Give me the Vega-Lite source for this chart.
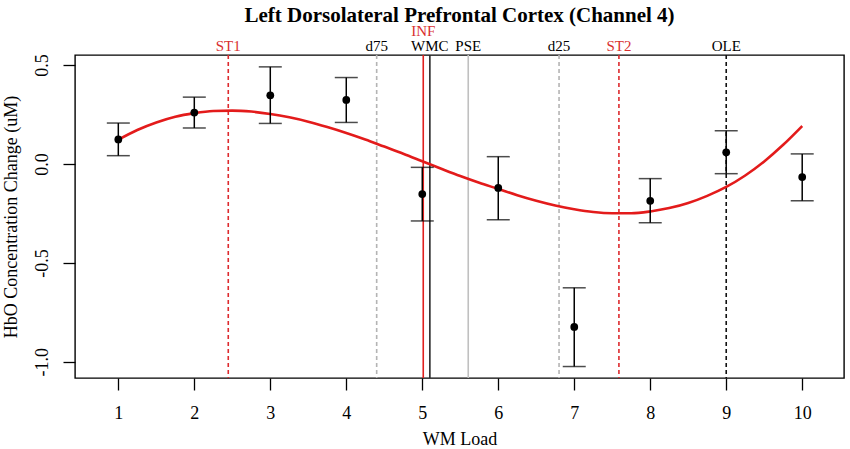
{
  "$schema": "https://vega.github.io/schema/vega-lite/v6.json",
  "description": "HbO concentration change by WM load with cubic fit and transition markers",
  "width": 769,
  "height": 323,
  "autosize": "none",
  "padding": {"left": 75, "top": 55, "right": 6, "bottom": 71},
  "title": {
    "text": "Left Dorsolateral Prefrontal Cortex (Channel 4)",
    "font": "Liberation Serif",
    "fontSize": 21,
    "fontWeight": "bold",
    "color": "black",
    "anchor": "middle",
    "baseline": "alphabetic",
    "offset": -19
  },
  "datasets": {
    "points": [
      {"load": 1, "mean": 0.124, "lo": 0.042, "hi": 0.207},
      {"load": 2, "mean": 0.260, "lo": 0.182, "hi": 0.338},
      {"load": 3, "mean": 0.347, "lo": 0.205, "hi": 0.491},
      {"load": 4, "mean": 0.324, "lo": 0.210, "hi": 0.437},
      {"load": 5, "mean": -0.152, "lo": -0.288, "hi": -0.017},
      {"load": 6, "mean": -0.121, "lo": -0.282, "hi": 0.037},
      {"load": 7, "mean": -0.824, "lo": -1.024, "hi": -0.626},
      {"load": 8, "mean": -0.186, "lo": -0.297, "hi": -0.074},
      {"load": 9, "mean": 0.059, "lo": -0.049, "hi": 0.168},
      {"load": 10, "mean": -0.066, "lo": -0.186, "hi": 0.051}
    ],
    "curve": [
      {"load": 1.0, "fit": 0.123}, {"load": 1.25, "fit": 0.172},
      {"load": 1.5, "fit": 0.210}, {"load": 1.75, "fit": 0.239},
      {"load": 2.0, "fit": 0.257}, {"load": 2.25, "fit": 0.268},
      {"load": 2.5, "fit": 0.270}, {"load": 2.75, "fit": 0.265},
      {"load": 3.0, "fit": 0.253}, {"load": 3.25, "fit": 0.236},
      {"load": 3.5, "fit": 0.214}, {"load": 3.75, "fit": 0.187},
      {"load": 4.0, "fit": 0.157}, {"load": 4.25, "fit": 0.124},
      {"load": 4.5, "fit": 0.088}, {"load": 4.75, "fit": 0.052},
      {"load": 5.0, "fit": 0.014}, {"load": 5.25, "fit": -0.024},
      {"load": 5.5, "fit": -0.061}, {"load": 5.75, "fit": -0.095},
      {"load": 6.0, "fit": -0.126}, {"load": 6.25, "fit": -0.158},
      {"load": 6.5, "fit": -0.186}, {"load": 6.75, "fit": -0.210},
      {"load": 7.0, "fit": -0.229}, {"load": 7.25, "fit": -0.243},
      {"load": 7.5, "fit": -0.249}, {"load": 7.75, "fit": -0.249},
      {"load": 8.0, "fit": -0.240}, {"load": 8.25, "fit": -0.223},
      {"load": 8.5, "fit": -0.197}, {"load": 8.75, "fit": -0.161},
      {"load": 9.0, "fit": -0.116}, {"load": 9.25, "fit": -0.058},
      {"load": 9.5, "fit": 0.013}, {"load": 9.75, "fit": 0.097},
      {"load": 10.0, "fit": 0.192}
    ],
    "lines": [
      {"label": "ST1", "load": 2.447},
      {"label": "d75", "load": 4.40},
      {"label": "INF", "load": 5.013},
      {"label": "WMC", "load": 5.10},
      {"label": "PSE", "load": 5.605},
      {"label": "d25", "load": 6.80},
      {"label": "ST2", "load": 7.588},
      {"label": "OLE", "load": 9.0}
    ]
  },
  "encoding": {
    "x": {
      "field": "load",
      "type": "quantitative",
      "scale": {"domain": [0.43, 10.55], "nice": false, "zero": false},
      "axis": {
        "title": "WM Load",
        "values": [1, 2, 3, 4, 5, 6, 7, 8, 9, 10],
        "grid": false,
        "domain": false,
        "tickSize": 12,
        "tickWidth": 1.3,
        "tickColor": "black",
        "labelPadding": 14,
        "labelFontSize": 18,
        "labelFont": "Liberation Serif",
        "labelColor": "black",
        "titleFont": "Liberation Serif",
        "titleFontSize": 18,
        "titleFontWeight": "normal",
        "titleColor": "black",
        "titleBaseline": "alphabetic",
        "titleY": 66.5
      }
    }
  },
  "layer": [
    {
      "data": {"name": "lines"},
      "mark": {"type": "rule", "strokeWidth": 1.6},
      "encoding": {
        "color": {
          "field": "label",
          "type": "nominal",
          "legend": null,
          "scale": {
            "domain": ["ST1", "d75", "INF", "WMC", "PSE", "d25", "ST2", "OLE"],
            "range": ["#dd2a2e", "#b4b4b4", "#e0201e", "#2a2a2a", "#c0c0c0", "#b4b4b4", "#dd2a2e", "#111111"]
          }
        },
        "strokeDash": {
          "field": "label",
          "type": "nominal",
          "legend": null,
          "scale": {
            "domain": ["ST1", "d75", "INF", "WMC", "PSE", "d25", "ST2", "OLE"],
            "range": [[4, 3], [4, 3], [1, 0], [1, 0], [1, 0], [4, 3], [4, 3], [4, 3]]
          }
        }
      }
    },
    {
      "data": {"name": "lines"},
      "transform": [{"filter": "datum.label != 'INF'"}],
      "mark": {"type": "text", "font": "Liberation Serif", "fontSize": 15, "baseline": "alphabetic", "align": "center", "dy": -4},
      "encoding": {
        "y": {"datum": 0.551, "type": "quantitative"},
        "text": {"field": "label"},
        "color": {
          "condition": {"test": "indexof(['ST1', 'ST2'], datum.label) >= 0", "value": "#d9302f"},
          "value": "black"
        }
      }
    },
    {
      "data": {"name": "lines"},
      "transform": [{"filter": "datum.label == 'INF'"}],
      "mark": {"type": "text", "font": "Liberation Serif", "fontSize": 15, "baseline": "alphabetic", "align": "center", "dy": -19.5, "color": "#d9302f"},
      "encoding": {
        "y": {"datum": 0.551, "type": "quantitative"},
        "text": {"field": "label"}
      }
    },
    {
      "data": {"name": "curve"},
      "mark": {"type": "line", "color": "#e31b1b", "strokeWidth": 2.6, "interpolate": "monotone"},
      "encoding": {
        "y": {"field": "fit", "type": "quantitative"}
      }
    },
    {
      "data": {"name": "points"},
      "mark": {"type": "rule", "color": "black", "strokeWidth": 1.5},
      "encoding": {
        "y": {"field": "lo", "type": "quantitative"},
        "y2": {"field": "hi"}
      }
    },
    {
      "data": {"name": "points"},
      "mark": {"type": "tick", "orient": "horizontal", "color": "black", "size": 23, "thickness": 1.5},
      "encoding": {
        "y": {"field": "lo", "type": "quantitative"}
      }
    },
    {
      "data": {"name": "points"},
      "mark": {"type": "tick", "orient": "horizontal", "color": "black", "size": 23, "thickness": 1.5},
      "encoding": {
        "y": {"field": "hi", "type": "quantitative"}
      }
    },
    {
      "data": {"name": "points"},
      "mark": {"type": "circle", "color": "black", "opacity": 1, "size": 60},
      "encoding": {
        "y": {
          "field": "mean",
          "type": "quantitative",
          "scale": {"domain": [-1.082, 0.551], "nice": false, "zero": false},
          "axis": {
            "title": "HbO Concentration Change (uM)",
            "values": [0.5, 0, -0.5, -1],
            "labelExpr": "replace(format(datum.value, '.1f'), '\u2212', '-')",
            "grid": false,
            "domain": false,
            "tickSize": 12,
            "tickWidth": 1.3,
            "tickColor": "black",
            "labelAngle": -90,
            "labelAlign": "center",
            "labelBaseline": "alphabetic",
            "labelPadding": 16,
            "labelFontSize": 18,
            "labelFont": "Liberation Serif",
            "labelColor": "black",
            "titleFont": "Liberation Serif",
            "titleFontSize": 18,
            "titleFontWeight": "normal",
            "titleColor": "black",
            "titleBaseline": "alphabetic",
            "titleX": -58.5,
            "titleY": 161.5
          }
        }
      }
    }
  ],
  "config": {
    "view": {"stroke": "black", "strokeWidth": 1.4},
    "background": "white"
  }
}
